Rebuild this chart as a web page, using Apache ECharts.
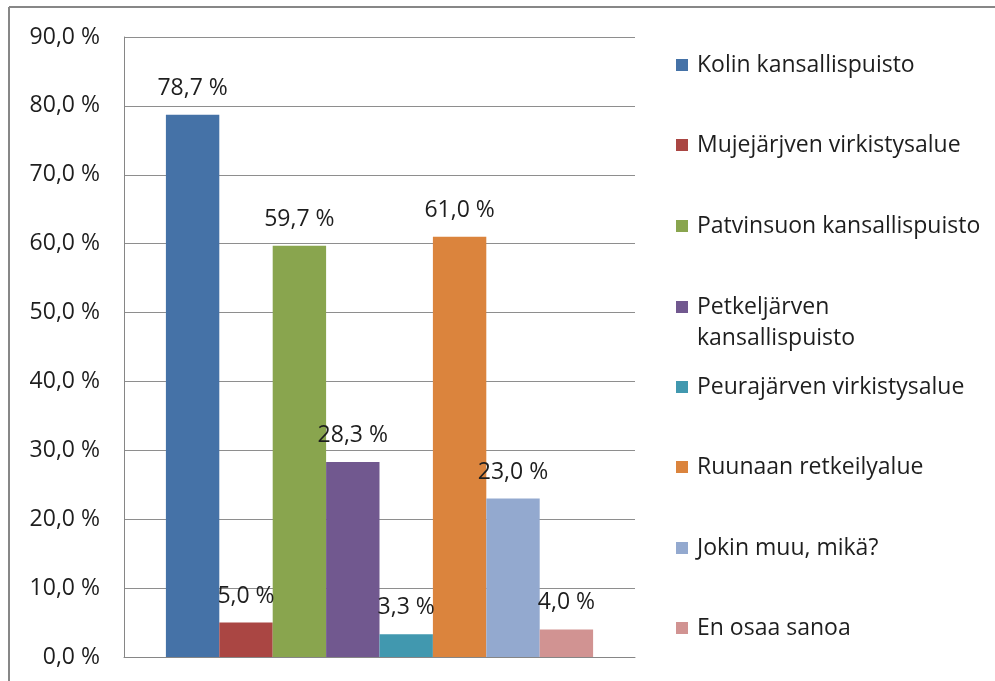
<!DOCTYPE html>
<html>
<head>
<meta charset="utf-8">
<script src="https://cdn.jsdelivr.net/npm/echarts@6/dist/echarts.min.js"></script>
<style>
html,body{margin:0;padding:0;background:#fff;}
#chart{width:995px;height:681px;}
</style>
</head>
<body>
<div id="chart"></div>
<script>
const seriesNames = [
  'Kolin kansallispuisto',
  'Mujejärjven virkistysalue',
  'Patvinsuon kansallispuisto',
  'Petkeljärven kansallispuisto',
  'Peurajärven virkistysalue',
  'Ruunaan retkeilyalue',
  'Jokin muu, mikä?',
  'En osaa sanoa'
];
const seriesValues = [78.7, 5.0, 59.7, 28.3, 3.3, 61.0, 23.0, 4.0];
const seriesColors = ['#4572A7', '#AA4643', '#89A54E', '#71588F', '#4198AF', '#DB843D', '#93A9CF', '#D19392'];
const categories = [''];
const yMin = 0, yMax = 90, yInterval = 10;

const fontFamily = '"Open Sans", sans-serif';
const textColor = '#1e1e1e';
const pct = v => Number(v).toFixed(1).replace('.', ',') + ' %';

const legendCenters = [65, 145, 226, 307, 387, 467, 548, 628];

const legends = seriesNames.map((name, i) => {
  const multi = name === 'Petkeljärven kansallispuisto';
  const lh = multi ? 31 : 26;
  return {
    orient: 'vertical',
    left: 676,
    top: multi ? legendCenters[i] - lh * 1.5 : legendCenters[i] - lh / 2,
    padding: 0,
    itemWidth: 12,
    itemHeight: 12,
    itemGap: 4,
    icon: 'rect',
    selectedMode: false,
    data: [name],
    formatter: multi ? () => '\nPetkeljärven\nkansallispuisto' : undefined,
    textStyle: { fontFamily, fontSize: 23, color: textColor, lineHeight: lh, padding: [0, 0, 0, 4] }
  };
});

const chart = echarts.init(document.getElementById('chart'), null, { renderer: 'canvas' });
chart.setOption({
  backgroundColor: '#fff',
  animation: false,
  graphic: [
    { type: 'line', shape: { x1: 9, y1: 7, x2: 995, y2: 7 }, style: { stroke: '#878787', lineWidth: 2 } },
    { type: 'line', shape: { x1: 9, y1: 7, x2: 9, y2: 681 }, style: { stroke: '#878787', lineWidth: 2 } }
  ],
  legend: legends,
  grid: { left: 124, right: 360, top: 37, bottom: 24, containLabel: false },
  xAxis: {
    type: 'category',
    data: categories,
    axisLine: { show: true, lineStyle: { color: '#868686', width: 1 } },
    axisTick: { show: false },
    axisLabel: { show: false }
  },
  yAxis: {
    type: 'value',
    min: yMin, max: yMax, interval: yInterval,
    axisLine: { show: true, lineStyle: { color: '#868686', width: 1 } },
    axisTick: { show: false },
    splitLine: { show: true, lineStyle: { color: '#8e8e8e', width: 1 } },
    axisLabel: { margin: 24, fontFamily, fontSize: 23, color: textColor, formatter: v => pct(v) }
  },
  series: seriesNames.map((name, i) => ({
    name,
    type: 'bar',
    data: [seriesValues[i]],
    barGap: '0%',
    barCategoryGap: '16.4%',
    itemStyle: { color: seriesColors[i] },
    label: {
      show: true,
      position: 'top',
      distance: 15,
      fontFamily, fontSize: 23, color: textColor,
      formatter: p => pct(p.value)
    }
  }))
});
</script>
</body>
</html>
